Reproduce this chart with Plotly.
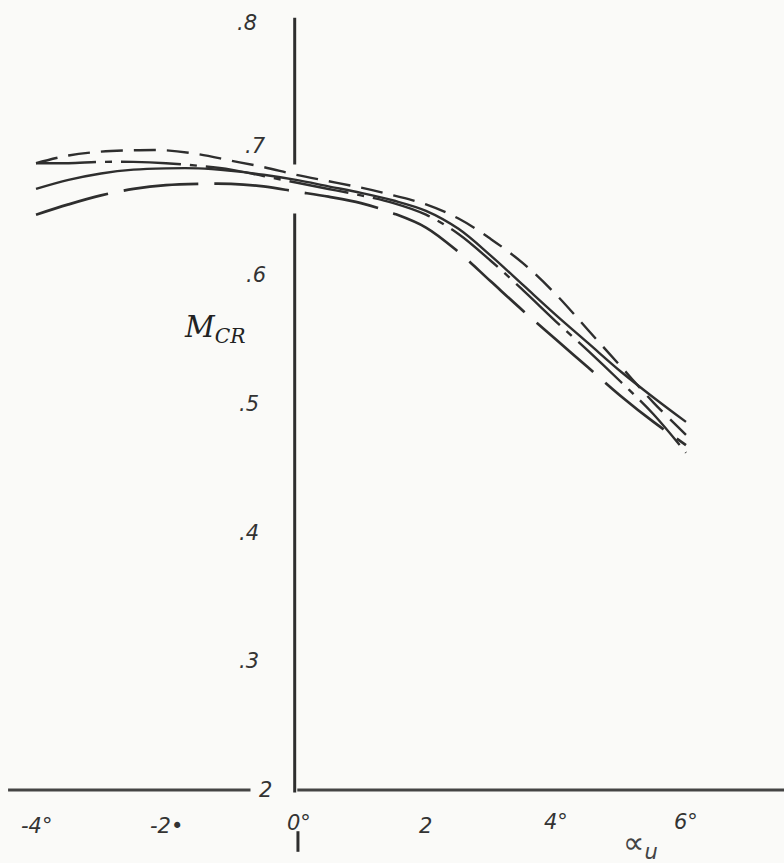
import plotly.graph_objects as go

# angle of attack (deg)
alpha = [-4, -3.5, -3, -2.5, -2, -1.5, -1, -0.5, 0, 0.5, 1, 1.5, 2, 2.5, 3, 3.5, 4, 4.5, 5, 5.5, 6]

# critical Mach number curves
m_dash = [0.687, 0.693, 0.696, 0.697, 0.697, 0.694, 0.689, 0.684, 0.678, 0.673, 0.668, 0.662, 0.655, 0.644, 0.628, 0.609, 0.585, 0.557, 0.529, 0.501, 0.476]
m_solid = [0.667, 0.674, 0.679, 0.682, 0.683, 0.683, 0.681, 0.678, 0.674, 0.669, 0.664, 0.658, 0.650, 0.636, 0.615, 0.592, 0.569, 0.547, 0.525, 0.505, 0.486]
m_dashdot = [0.687, 0.687, 0.688, 0.688, 0.687, 0.685, 0.682, 0.677, 0.672, 0.667, 0.662, 0.656, 0.647, 0.632, 0.611, 0.588, 0.564, 0.541, 0.517, 0.492, 0.462]
m_longdash = [0.647, 0.655, 0.662, 0.667, 0.670, 0.671, 0.671, 0.669, 0.665, 0.661, 0.656, 0.648, 0.637, 0.618, 0.595, 0.572, 0.550, 0.528, 0.506, 0.486, 0.468]

y_ticks = [0.8, 0.7, 0.6, 0.5, 0.4, 0.3]
y_tick_text = [".8", ".7", ".6", ".5", ".4", ".3"]
x_ticks = [-4, -2, 0, 2, 4, 6]
x_tick_text = ["-4°", "-2•", "0°", "2", "4°", "6°"]

ink = "#2e2e2e"
fig = go.Figure()

styles = [
    (m_dash, "22px,11px", 2.4),
    (m_solid, "solid", 2.4),
    (m_dashdot, "60px,9px,7px,9px", 2.4),
    (m_longdash, "75px,16px", 2.7),
]
for ys, dash, w in styles:
    fig.add_trace(go.Scatter(x=alpha, y=ys, mode="lines",
                             line=dict(color=ink, width=w, dash=dash, shape="spline", smoothing=1.0),
                             hoverinfo="skip", showlegend=False))

# axes drawn as hand-style lines
shapes = [
    dict(type="line", x0=-4.43, x1=-0.7, y0=0.2, y1=0.2, line=dict(color="#444", width=3)),
    dict(type="line", x0=0.02, x1=7.6, y0=0.2, y1=0.2, line=dict(color="#444", width=3)),
    dict(type="line", x0=-0.02, x1=-0.02, y0=0.198, y1=0.648, line=dict(color=ink, width=3)),
    dict(type="line", x0=-0.02, x1=-0.02, y0=0.686, y1=0.80, line=dict(color=ink, width=3)),
    dict(type="line", x0=0.03, x1=0.03, y0=0.168, y1=0.152, line=dict(color=ink, width=3)),
]

annotations = []
font = dict(family="DejaVu Sans", size=21, color="#333", style="italic")
y_lab_x = [-0.75, -0.62, -0.62, -0.72, -0.72, -0.72]
y_lab_y = [0.796, 0.7, 0.6, 0.5, 0.4, 0.3]
for yv, txt, lx in zip(y_lab_y, y_tick_text, y_lab_x):
    annotations.append(dict(x=lx, y=yv, text=txt, showarrow=False, font=font, xanchor="center", yanchor="middle"))
annotations.append(dict(x=-0.47, y=0.2, text="2", showarrow=False, font=font, xanchor="center", yanchor="middle"))
x_lab_y = [0.172, 0.172, 0.174, 0.172, 0.175, 0.175]
for xv, txt, ly in zip(x_ticks, x_tick_text, x_lab_y):
    annotations.append(dict(x=xv + (0.05 if xv == 0 else 0), y=ly, text=txt, showarrow=False, font=font,
                            xanchor="center", yanchor="middle"))
annotations.append(dict(x=5.3, y=0.158, text="∝<sub>u</sub>", showarrow=False,
                        font=dict(family="DejaVu Sans", size=30, color="#444", style="italic"),
                        xanchor="center", yanchor="middle"))
annotations.append(dict(x=-1.25, y=0.558, text="M<sub>CR</sub>", showarrow=False,
                        font=dict(family="DejaVu Serif", size=29, color="#222", style="italic"),
                        xanchor="center", yanchor="middle"))

fig.update_layout(
    width=784, height=863,
    margin=dict(l=0, r=0, t=0, b=0),
    paper_bgcolor="#fafaf8", plot_bgcolor="#fafaf8",
    xaxis=dict(range=[-4.554, 7.508], visible=False, fixedrange=True),
    yaxis=dict(range=[0.1433, 0.8138], visible=False, fixedrange=True),
    shapes=shapes, annotations=annotations,
)

fig.write_html("out.html", config={"displayModeBar": False},
               post_script="document.body.style.margin='0px';document.body.style.overflow='hidden';")
